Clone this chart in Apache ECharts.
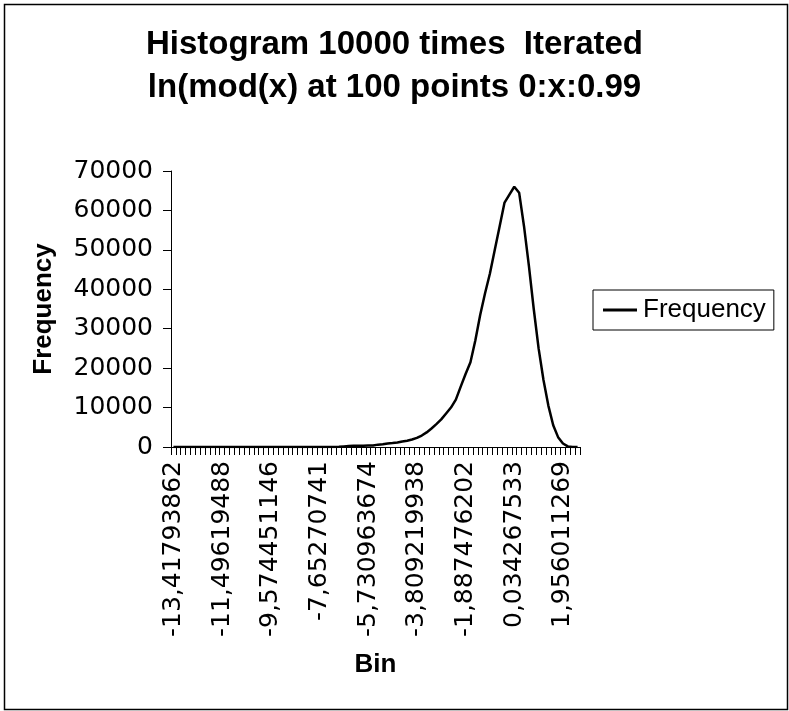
<!DOCTYPE html>
<html>
<head>
<meta charset="utf-8">
<script src="https://cdn.jsdelivr.net/npm/echarts@6/dist/echarts.min.js"></script>
<style>
html,body{margin:0;padding:0;background:#fff;}
#chart{width:789px;height:711px;}
</style>
</head>
<body>
<div id="chart"></div>
<script>
var titleLines = ['Histogram 10000 times  Iterated', 'ln(mod(x) at 100 points 0:x:0.99'];
var seriesName = 'Frequency';
var xAxisTitle = 'Bin';
var yAxisTitle = 'Frequency';
var bins = [
'-13,41793862','-13,22576425','-13,03358987','-12,8414155','-12,64924113','-12,45706675','-12,26489238','-12,07271801','-11,88054363','-11,68836926',
'-11,49619488','-11,30402051','-11,11184614','-10,91967176','-10,72749739','-10,53532301','-10,34314864','-10,15097427','-9,958799893','-9,766625519',
'-9,574451146','-9,382276772','-9,190102398','-8,997928025','-8,805753651','-8,613579278','-8,421404904','-8,22923053','-8,037056157','-7,844881783',
'-7,65270741','-7,460533036','-7,268358662','-7,076184289','-6,884009915','-6,691835542','-6,499661168','-6,307486794','-6,115312421','-5,923138047',
'-5,730963674','-5,5387893','-5,346614926','-5,154440553','-4,962266179','-4,770091806','-4,577917432','-4,385743058','-4,193568685','-4,001394311',
'-3,809219938','-3,617045564','-3,42487119','-3,232696817','-3,040522443','-2,84834807','-2,656173696','-2,463999322','-2,271824949','-2,079650575',
'-1,887476202','-1,695301828','-1,503127454','-1,310953081','-1,118778707','-0,926604334','-0,73442996','-0,542255586','-0,350081213','-0,157906839',
'0,034267533','0,226441907','0,41861628','0,610790654','0,802965027','0,995139401','1,187313775','1,379488148','1,571662522','1,763836895',
'1,956011269','2,148185643','2,340360016','2,53253439'
];
var frequency = [
0,0,0,0,0,0,0,0,0,0,
0,0,0,0,0,0,0,0,0,0,
0,0,0,0,0,0,0,0,0,0,
0,0,0,0,50,150,250,300,300,300,
350,400,600,700,900,1000,1150,1400,1600,1900,
2300,2900,3700,4700,5800,7000,8500,10000,12000,15300,
18500,21500,27000,33500,39000,44000,50000,56000,62000,64000,
66000,64500,56000,46000,35000,25000,17000,10500,5500,2500,
900,150,0,0
];
var yTicks = {min: 0, max: 70000, interval: 10000};

var FONT = '"Liberation Sans", Arial, sans-serif';
var TICKFONT = '"DejaVu Sans", sans-serif';
var chart = echarts.init(document.getElementById('chart'), null, {renderer: 'canvas'});
chart.setOption({
  backgroundColor: '#ffffff',
  animation: false,
  title: {
    text: titleLines.join('\n'),
    left: 'center',
    top: 23,
    padding: 0,
    textStyle: {fontFamily: FONT, fontSize: 33, fontWeight: 'bold', color: '#000', lineHeight: 43}
  },
  graphic: [{
    type: 'rect', left: 2, top: 2, silent: true,
    shape: {width: 783, height: 705},
    style: {fill: 'none', stroke: '#000', lineWidth: 1.5}
  }],
  legend: {
    data: [{name: seriesName, icon: 'rect'}],
    left: 593, top: 290,
    orient: 'vertical',
    padding: [5, 8, 5, 10],
    borderColor: '#000', borderWidth: 1,
    itemWidth: 34, itemHeight: 3,
    itemStyle: {color: '#000', borderWidth: 0},
    textStyle: {fontFamily: FONT, fontSize: 26, color: '#000', lineHeight: 30, padding: [0,0,0,1]}
  },
  grid: {left: 171, top: 171, width: 409, height: 276, containLabel: false},
  xAxis: {
    type: 'category',
    data: bins,
    boundaryGap: true,
    name: xAxisTitle,
    nameLocation: 'middle',
    nameGap: 205,
    nameTextStyle: {fontFamily: FONT, fontSize: 26, fontWeight: 'bold', color: '#000'},
    axisLine: {lineStyle: {color: '#000', width: 1}},
    axisTick: {show: true, interval: 0, length: 8, lineStyle: {color: '#000', width: 1}},
    axisLabel: {interval: 9, rotate: 90, margin: 14, fontFamily: TICKFONT, fontSize: 25, color: '#000'},
    splitLine: {show: false}
  },
  yAxis: {
    type: 'value',
    min: yTicks.min, max: yTicks.max, interval: yTicks.interval,
    name: yAxisTitle,
    nameLocation: 'middle',
    nameGap: 114,
    nameRotate: 90,
    nameTextStyle: {fontFamily: FONT, fontSize: 26, fontWeight: 'bold', color: '#000'},
    axisLine: {show: true, lineStyle: {color: '#000', width: 1}},
    axisTick: {show: true, length: 8, lineStyle: {color: '#000', width: 1}},
    axisLabel: {margin: 18, fontFamily: TICKFONT, fontSize: 25, color: '#000', formatter: function (v) { return String(v); }},
    splitLine: {show: false}
  },
  series: [{
    name: seriesName,
    type: 'line',
    data: frequency,
    symbol: 'none',
    smooth: false,
    lineStyle: {color: '#000', width: 2.5},
    itemStyle: {color: '#000'}
  }]
});
</script>
</body>
</html>
